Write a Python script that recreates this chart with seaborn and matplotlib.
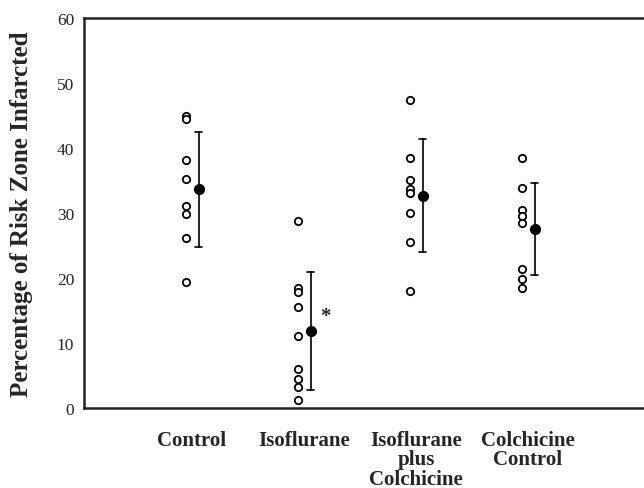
import numpy as np
import pandas as pd
import seaborn as sns
import matplotlib
matplotlib.use('Agg')
import matplotlib.pyplot as plt

# data
groups = ['Control', 'Isoflurane', 'Isoflurane\nplus\nColchicine', 'Colchicine\nControl']
control = [45.0, 44.4, 38.2, 35.3, 31.1, 29.8, 26.1, 19.4]
isoflurane = [28.7, 18.5, 17.9, 15.5, 11.1, 6.0, 4.4, 3.2, 1.2]
iso_colch = [47.4, 38.5, 35.1, 33.7, 33.1, 30.0, 25.5, 18.0]
colch_control = [38.4, 33.8, 30.5, 29.5, 28.5, 21.4, 19.9, 18.4]

rows = []
for i, vals in enumerate([control, isoflurane, iso_colch, colch_control]):
    for v in vals:
        rows.append({'group': i, 'value': v})
df = pd.DataFrame(rows)

sns.set_style('white')
plt.rcParams['font.family'] = ['Liberation Serif', 'DejaVu Serif']

fig = plt.figure(figsize=(6.44, 4.89), dpi=100)
ax = fig.add_axes([84 / 644, 80 / 489, (657 - 84) / 644, 390 / 489])

# individual animals (open circles) shifted a bit left
sns.scatterplot(x=df['group'] - 0.05, y=df['value'], ax=ax, marker='o', s=28,
                facecolor='white', edgecolor='black', linewidth=1.3, zorder=3)

# mean +/- SD, shifted a bit right
sns.pointplot(x=df['group'] + 0.06, y=df['value'], ax=ax, native_scale=True,
              errorbar='sd', color='black', linestyle='none', marker='o',
              markersize=6, capsize=0.06, err_kws={'linewidth': 1.2}, zorder=4)

ax.text(1.19, 14.2, '*', ha='center', va='center', fontsize=15, fontweight='bold')

ax.set_xlim(-0.964, 4.152)
ax.set_ylim(0, 60)
ax.set_yticks(range(0, 61, 10))
ax.set_xticks(range(len(groups)))
ax.set_xticklabels(groups, fontweight='bold', fontsize=15, linespacing=0.95)
ax.tick_params(axis='x', length=0, pad=16)
ax.tick_params(axis='y', length=0, pad=7, labelsize=12.5)
ax.set_xlabel('')
ax.set_ylabel('Percentage of Risk Zone Infarcted', fontweight='bold', fontsize=18)
ax.yaxis.set_label_coords(-51 / 573, 0.5)

ax.spines['right'].set_visible(False)
for s in ['left', 'top', 'bottom']:
    ax.spines[s].set_linewidth(1.8)
    ax.spines[s].set_color('#222222')

fig.savefig('out.png', dpi=100)
